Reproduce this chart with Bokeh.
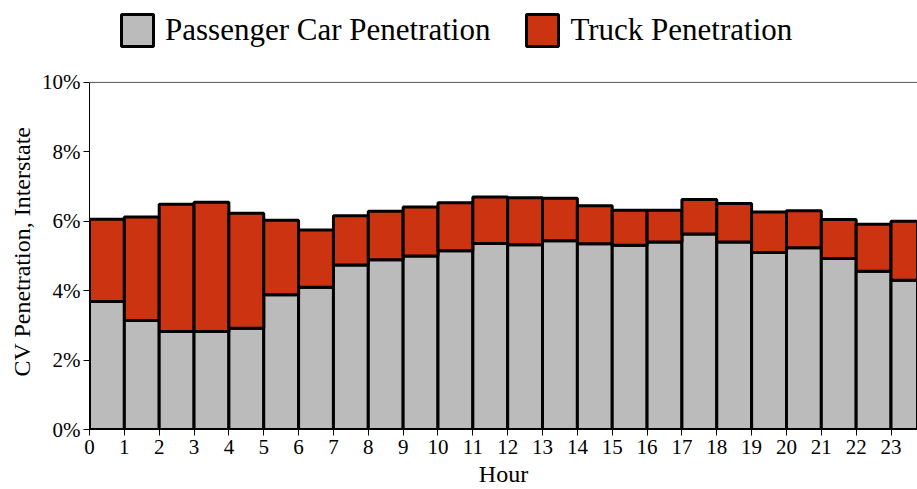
from bokeh.plotting import figure
from bokeh.models import ColumnDataSource, Legend, LegendItem, FixedTicker, Span, Range1d, Title
from bokeh.embed import file_html
from bokeh.resources import INLINE

# ---- data (percent) ----
hours = list(range(24))
passenger_car = [3.69, 3.14, 2.82, 2.82, 2.92, 3.88, 4.10, 4.74, 4.89, 5.00, 5.15, 5.36,
                 5.32, 5.44, 5.35, 5.31, 5.40, 5.63, 5.40, 5.10, 5.24, 4.93, 4.56, 4.30]
truck = [2.37, 2.98, 3.67, 3.73, 3.31, 2.15, 1.65, 1.42, 1.40, 1.41, 1.38, 1.34,
         1.36, 1.22, 1.10, 1.01, 0.92, 1.00, 1.11, 1.17, 1.06, 1.12, 1.35, 1.70]
series_names = ["Passenger Car Penetration", "Truck Penetration"]
y_ticks = [0, 2, 4, 6, 8, 10]
y_tick_labels = ["0%", "2%", "4%", "6%", "8%", "10%"]
x_title = "Hour"
y_title = "CV Penetration, Interstate"

FONT = "Liberation Serif"
GRAY = "#BBBBBB"
RED = "#CC3311"

source = ColumnDataSource(dict(
    x=[h + 0.5 for h in hours],
    car=passenger_car,
    truck=truck,
))

# the frame reaches the top of the canvas so the legend can sit above the 10% line
p = figure(width=917, height=489, output_backend="svg", toolbar_location=None,
           x_range=Range1d(0, 23.76), y_range=Range1d(0, 12.36),
           min_border_left=89, min_border_right=0, min_border_top=0, min_border_bottom=58)

renderers = p.vbar_stack(["car", "truck"], x="x", width=1.0, source=source,
                         fill_color=[GRAY, RED], line_color="black", line_width=3)

p.xgrid.visible = False
p.ygrid.visible = False
p.outline_line_color = None
p.background_fill_color = "white"
p.border_fill_color = "white"

# top frame line at 10%
p.add_layout(Span(location=10, dimension="width", line_color="#555555", line_width=1))

# axes
p.xaxis.ticker = FixedTicker(ticks=hours)
p.yaxis.ticker = FixedTicker(ticks=y_ticks)
p.yaxis.bounds = (0, 10)
p.yaxis.major_label_overrides = {t: l for t, l in zip(y_ticks, y_tick_labels)}
p.xaxis.axis_label = x_title
for ax in (p.xaxis, p.yaxis):
    ax.axis_line_color = "black"
    ax.axis_line_width = 1
    ax.major_tick_line_color = "black"
    ax.major_tick_in = 0
    ax.major_tick_out = 6
    ax.minor_tick_line_color = None
    ax.major_label_text_font = FONT
    ax.major_label_text_color = "black"
    ax.major_label_text_font_size = "21px"
    ax.axis_label_text_font = FONT
    ax.axis_label_text_font_style = "normal"
    ax.axis_label_text_color = "black"
    ax.axis_label_text_font_size = "24px"
p.xaxis.major_label_standoff = 4
p.xaxis.axis_label_standoff = 4
p.yaxis.major_label_standoff = 3

# y-axis title, centred on the 0-10% span rather than the whole frame
ytitle = Title(text=y_title, align="left", offset=53, standoff=10,
               text_font=FONT, text_font_size="24px", text_font_style="normal",
               text_color="black")
p.add_layout(ytitle, "left")

legend = Legend(items=[LegendItem(label=series_names[0], renderers=[renderers[0]]),
                       LegendItem(label=series_names[1], renderers=[renderers[1]])],
                orientation="horizontal", location=(28, 379),
                glyph_width=40, glyph_height=40, label_standoff=8, spacing=32,
                padding=0, margin=0, border_line_color=None, background_fill_alpha=0,
                label_text_font=FONT, label_text_font_size="31px", label_text_color="black")
p.add_layout(legend, "center")

open("out.html", "w").write(file_html(p, INLINE))
